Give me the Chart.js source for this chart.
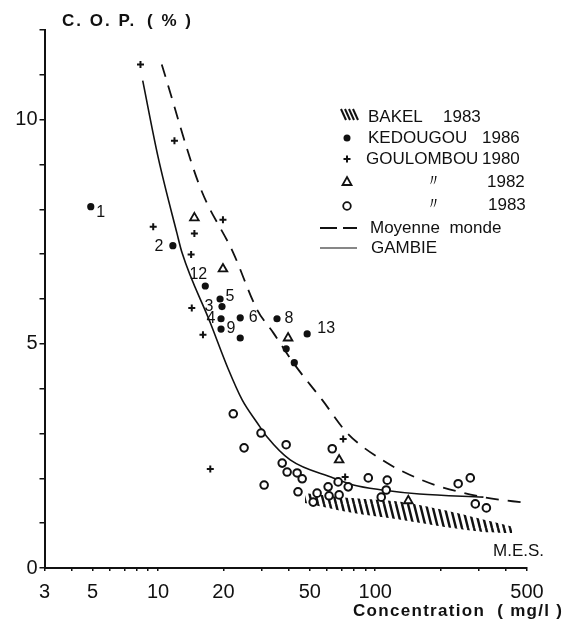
<!DOCTYPE html>
<html>
<head>
<meta charset="utf-8">
<script src="https://cdn.jsdelivr.net/npm/chart.js@4.4.1/dist/chart.umd.min.js"></script>
<style>
  html, body { margin: 0; padding: 0; background: #fff; }
</style>
</head>
<body>
<canvas id="copChart" width="575" height="635"></canvas>
<script>
// KEDOUGOU 1986 (filled dots, numbered)
const kedX = [4.9, 11.7, 16.5, 19.3, 19.7, 19.5, 19.5, 23.9, 23.9, 35.3, 48.6, 38.9, 42.4];
const kedY = [8.06, 7.19, 6.29, 6.0, 5.83, 5.56, 5.33, 5.58, 5.13, 5.56, 5.22, 4.89, 4.58];
const kedNum = ['1', '2', '12', '5', '3', '4', '9', '6', '', '8', '13', '', ''];

// GOULOMBOU 1980 (+)
const gou80X = [8.3, 11.9, 9.5, 14.7, 19.9, 14.2, 14.3, 16.1, 17.4, 71.2, 72.7];
const gou80Y = [11.23, 9.53, 7.61, 7.46, 7.77, 6.99, 5.8, 5.2, 2.21, 2.88, 2.03];

// GOULOMBOU 1982 (triangles)
const gou82X = [14.7, 19.9, 39.7, 68.2, 142];
const gou82Y = [7.81, 6.67, 5.13, 2.41, 1.5];

// GOULOMBOU 1983 (circles)
const gou83X = [22.2, 29.8, 24.9, 38.9, 37.3, 39.3, 43.7, 46.1, 30.8, 63.4, 44.1, 51.8, 54, 60.7, 61.3,
                67.5, 68.2, 75.1, 92.9, 113.6, 112.4, 106.6, 241, 274, 289, 325];
const gou83Y = [3.44, 3.01, 2.68, 2.75, 2.34, 2.14, 2.12, 1.99, 1.85, 2.66, 1.70, 1.47, 1.67, 1.81, 1.61,
                1.92, 1.63, 1.81, 2.01, 1.96, 1.74, 1.58, 1.88, 2.01, 1.43, 1.34];

// GAMBIE curve (solid)
const gamX = [8.5, 10, 12.2, 12.9, 17.4, 21.0, 24.4, 28.6, 31.8, 40.6, 64.1, 79.3, 108, 160, 315];
const gamY = [10.87, 9.17, 7.48, 7.03, 5.47, 4.45, 3.75, 3.24, 2.92, 2.41, 2.01, 1.85, 1.74, 1.65, 1.58];

// Moyenne monde (dashed)
const monX = [10.4, 15.6, 22.2, 28.6, 33.9, 41.9, 57, 74.3, 113.6, 144, 189, 315, 500];
const monY = [11.23, 8.5, 7.03, 5.76, 5.25, 4.58, 3.75, 3.01, 2.34, 2.08, 1.85, 1.58, 1.45];

// BAKEL 1983 (hatched band)
const bakX = [47.5, 78.3, 133, 226, 321, 428];
const bakTop = [1.67, 1.56, 1.47, 1.25, 1.07, 0.92];
const bakBot = [1.45, 1.23, 1.07, 0.89, 0.80, 0.78];

// axes
const xTickVals = [3, 4, 5, 6, 7, 8, 9, 10, 20, 30, 40, 50, 60, 70, 80, 90, 100, 200, 300, 400, 500];
const xTickLabels = [3, 5, 10, 20, 50, 100, 500];
const yTickLabels = [0, 5, 10];

const ink = '#111';
const fontFam = "'Liberation Sans', Arial, sans-serif";
Chart.defaults.font.family = fontFam;
Chart.defaults.color = ink;

function pts(xs, ys) {
    return xs.map(function(x, i) { return {x: x, y: ys[i]}; });
}

const cnv = document.getElementById('copChart');
const ctx = cnv.getContext('2d');

// hatch pattern for the BAKEL band
function makeHatch() {
    const c = document.createElement('canvas');
    c.width = 6; c.height = 24;
    const g = c.getContext('2d');
    g.strokeStyle = ink;
    g.lineWidth = 2.4;
    [-6, 0, 6].forEach(function(o) {
        g.beginPath(); g.moveTo(o, 0); g.lineTo(o + 6, 24); g.stroke();
    });
    return ctx.createPattern(c, 'repeat');
}

// offsets of the point numbers (px)
const numOffset = {
    '1': [10, 6], '2': [-14, 1], '12': [-7, -11], '5': [10, -2], '3': [-13, 0],
    '4': [-10, 0], '9': [10, 0], '6': [13, 0], '8': [12, 0], '13': [19, -5]
};

const textPlugin = {
    id: 'texts',
    afterDatasetsDraw(chart) {
        const c = chart.ctx;
        c.save();
        c.fillStyle = ink;
        c.strokeStyle = ink;

        // point numbers
        const meta = chart.getDatasetMeta(4);
        c.font = '16px ' + fontFam;
        c.textAlign = 'center';
        c.textBaseline = 'middle';
        meta.data.forEach(function(el, i) {
            const n = kedNum[i];
            if (!n) return;
            const o = numOffset[n] || [10, 0];
            c.fillText(n, el.x + o[0], el.y + o[1]);
        });

        // axis titles
        c.textAlign = 'left';
        c.textBaseline = 'alphabetic';
        c.font = 'bold 17px ' + fontFam;
        c.letterSpacing = '2px';
        c.fillText('C. O. P.', 62, 26);
        c.fillText('( % )', 147, 26);
        c.letterSpacing = '0px';
        c.font = '17px ' + fontFam;
        c.fillText('M.E.S.', 493, 556);
        c.font = 'bold 17px ' + fontFam;
        c.letterSpacing = '1.3px';
        c.fillText('Concentration  ( mg/l )', 353, 616);
        c.letterSpacing = '0px';

        // legend
        c.font = '17px ' + fontFam;
        c.textBaseline = 'middle';
        const sx = 347;
        // hatch symbol
        c.lineWidth = 2;
        for (let k = 0; k < 4; k++) {
            c.beginPath();
            c.moveTo(341 + k * 4, 109);
            c.lineTo(346 + k * 4, 120);
            c.stroke();
        }
        c.fillText('BAKEL', 368, 117);
        c.fillText('1983', 443, 117);
        // dot
        c.beginPath(); c.arc(sx, 138, 3.5, 0, Math.PI * 2); c.fill();
        c.fillText('KEDOUGOU', 368, 138);
        c.fillText('1986', 482, 138);
        // cross
        c.lineWidth = 2;
        c.beginPath();
        c.moveTo(sx - 3.5, 159); c.lineTo(sx + 3.5, 159);
        c.moveTo(sx, 155.5); c.lineTo(sx, 162.5);
        c.stroke();
        c.fillText('GOULOMBOU', 366, 159);
        c.fillText('1980', 482, 159);
        // triangle
        c.lineWidth = 1.8;
        c.beginPath();
        c.moveTo(sx, 177); c.lineTo(sx + 4.5, 185); c.lineTo(sx - 4.5, 185); c.closePath();
        c.stroke();
        c.fillText('〃', 425, 181);
        c.fillText('1982', 487, 182);
        // circle
        c.beginPath(); c.arc(sx, 206, 3.8, 0, Math.PI * 2); c.stroke();
        c.fillText('〃', 425, 204);
        c.fillText('1983', 488, 205);
        // dashed
        c.lineWidth = 1.8;
        c.beginPath();
        c.moveTo(320, 228); c.lineTo(337, 228);
        c.moveTo(343, 228); c.lineTo(357, 228);
        c.stroke();
        c.fillText('Moyenne  monde', 370, 228);
        // solid
        c.lineWidth = 1.2;
        c.beginPath(); c.moveTo(320, 248); c.lineTo(357, 248); c.stroke();
        c.fillText('GAMBIE', 371, 248);

        c.restore();
    }
};

const chart = new Chart(cnv, {
    type: 'line',
    data: {
        datasets: [
            {
                label: 'BAKEL 1983',
                data: pts(bakX, bakTop),
                borderWidth: 0,
                pointRadius: 0,
                fill: '+1',
                backgroundColor: makeHatch(),
                tension: 0.3,
                order: 6
            },
            {
                label: 'bakel bottom',
                data: pts(bakX, bakBot),
                borderWidth: 0,
                pointRadius: 0,
                fill: false,
                tension: 0.3,
                order: 7
            },
            {
                label: 'GAMBIE',
                data: pts(gamX, gamY),
                borderColor: ink,
                borderWidth: 1.6,
                pointRadius: 0,
                cubicInterpolationMode: 'monotone',
                fill: false,
                order: 5
            },
            {
                label: 'Moyenne monde',
                data: pts(monX, monY),
                borderColor: ink,
                borderWidth: 1.8,
                borderDash: [13, 9],
                pointRadius: 0,
                cubicInterpolationMode: 'monotone',
                fill: false,
                order: 4
            },
            {
                label: 'KEDOUGOU 1986',
                data: pts(kedX, kedY),
                showLine: false,
                pointStyle: 'circle',
                pointRadius: 3.6,
                pointBackgroundColor: ink,
                pointBorderColor: ink,
                pointBorderWidth: 0,
                order: 0
            },
            {
                label: 'GOULOMBOU 1980',
                data: pts(gou80X, gou80Y),
                showLine: false,
                pointStyle: 'cross',
                pointRadius: 3.5,
                pointBorderColor: ink,
                pointBorderWidth: 2,
                order: 1
            },
            {
                label: 'GOULOMBOU 1982',
                data: pts(gou82X, gou82Y),
                showLine: false,
                pointStyle: 'triangle',
                pointRadius: 5,
                pointBackgroundColor: '#fff',
                pointBorderColor: ink,
                pointBorderWidth: 1.8,
                order: 2
            },
            {
                label: 'GOULOMBOU 1983',
                data: pts(gou83X, gou83Y),
                showLine: false,
                pointStyle: 'circle',
                pointRadius: 3.8,
                pointBackgroundColor: '#fff',
                pointBorderColor: ink,
                pointBorderWidth: 2,
                order: 3
            }
        ]
    },
    options: {
        responsive: false,
        animation: false,
        layout: { padding: { left: 0, right: 48, top: 30, bottom: 0 } },
        plugins: {
            legend: { display: false },
            tooltip: { enabled: false }
        },
        scales: {
            x: {
                type: 'logarithmic',
                min: 3,
                max: 500,
                afterBuildTicks(scale) {
                    scale.ticks = xTickVals.map(function(v) { return {value: v}; });
                },
                afterFit(scale) { scale.height = 67; },
                grid: { display: true, drawOnChartArea: false, drawTicks: true, tickLength: 3, color: ink, lineWidth: 1.5 },
                border: { display: true, color: ink, width: 2 },
                ticks: {
                    autoSkip: false,
                    maxRotation: 0,
                    padding: 9,
                    font: { size: 20 },
                    color: ink,
                    callback: function(v) { return xTickLabels.includes(v) ? String(v) : ''; }
                }
            },
            y: {
                type: 'linear',
                min: 0,
                max: 12,
                afterFit(scale) { scale.width = 44.5; },
                grid: { display: true, drawOnChartArea: false, drawTicks: true, tickLength: 5, color: ink, lineWidth: 1.5 },
                border: { display: true, color: ink, width: 2 },
                ticks: {
                    stepSize: 1,
                    padding: 2,
                    font: { size: 20 },
                    color: ink,
                    callback: function(v) { return yTickLabels.includes(v) ? String(v) : ''; }
                }
            }
        }
    },
    plugins: [textPlugin]
});
</script>
</body>
</html>
